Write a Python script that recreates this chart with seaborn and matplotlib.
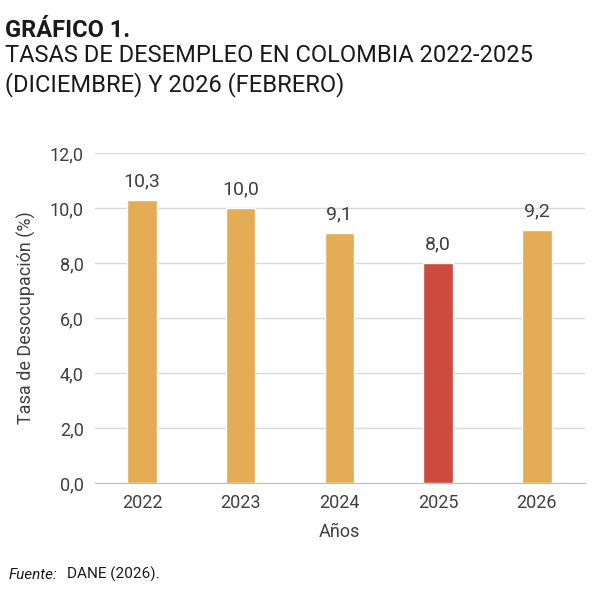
import matplotlib
matplotlib.use("Agg")
import matplotlib.pyplot as plt
import seaborn as sns
import pandas as pd

years = ["2022", "2023", "2024", "2025", "2026"]
rates = [10.3, 10.0, 9.1, 8.0, 9.2]
colors = ["#E3AC55", "#E3AC55", "#E3AC55", "#CC4A3E", "#E3AC55"]

sns.set_style("white")
fam = ["Liberation Sans Narrow", "Roboto", "DejaVu Sans"]
plt.rcParams["font.family"] = fam

df = pd.DataFrame({"Año": years, "Tasa": rates})
fig = plt.figure(figsize=(6.01, 5.93), dpi=100)
ax = fig.add_axes([0.158, 0.1855, 0.815, 0.5565])
sns.barplot(data=df, x="Año", y="Tasa", hue="Año", palette=colors, legend=False,
            width=0.3, ax=ax, saturation=1)
ax.set_ylim(0, 12)
ax.set_xlim(-0.476, 4.486)
ax.set_yticks([0, 2, 4, 6, 8, 10, 12])
ax.set_yticklabels([f"{v:.1f}".replace(".", ",") for v in [0, 2, 4, 6, 8, 10, 12]])
ax.grid(axis="y", color="#D9D9D9", linewidth=1)
ax.set_axisbelow(True)
for s in ["left", "right", "top"]:
    ax.spines[s].set_visible(False)
ax.spines["bottom"].set_color("#BFBFBF")
ax.tick_params(axis="both", length=0, labelsize=13, colors="#404040", pad=8)
for i, v in enumerate(rates):
    ax.text(i, v + 0.35, f"{v:.1f}".replace(".", ","), ha="center", va="bottom",
            fontsize=14, color="#404040")
ax.set_xlabel("Años", fontsize=13, color="#404040", labelpad=8)
ax.set_ylabel("Tasa de Desocupación (%)", fontsize=13, color="#404040", labelpad=10)

fig.text(0.008, 0.968, "GRÁFICO 1.", fontsize=17, fontweight="bold", va="top", color="#1a1a1a")
fig.text(0.008, 0.925, "TASAS DE DESEMPLEO EN COLOMBIA 2022-2025\n(DICIEMBRE) Y 2026 (FEBRERO)",
         fontsize=17, va="top", color="#1a1a1a", linespacing=1.25)
fig.text(0.015, 0.018, "Fuente:", fontsize=11, style="italic", color="#1a1a1a", va="bottom")
fig.text(0.112, 0.018, "DANE (2026).", fontsize=11, color="#1a1a1a", va="bottom")
fig.savefig("out.png", dpi=100)
